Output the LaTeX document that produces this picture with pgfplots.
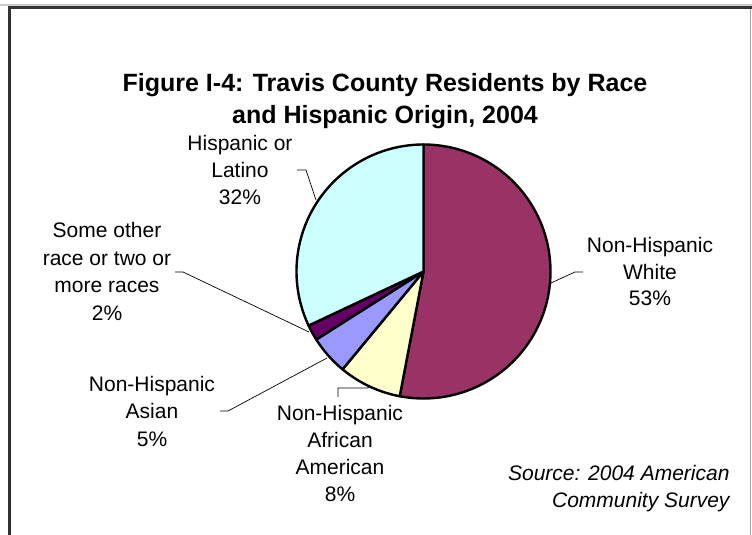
\documentclass[border=0pt]{standalone}
\usepackage{fontspec}
\setmainfont{Liberation Sans}
\usepackage{pgfplots}
\pgfplotsset{compat=1.18}
\definecolor{cWhite}{HTML}{993366}
\definecolor{cAfr}{HTML}{FFFFCC}
\definecolor{cAsian}{HTML}{9999FF}
\definecolor{cOther}{HTML}{660066}
\definecolor{cHisp}{HTML}{CCFFFF}
\definecolor{frame}{HTML}{333333}
\begin{document}
\begin{tikzpicture}
\begin{axis}[
  at={(0,0)}, anchor=south west,
  width=752pt, height=535pt, scale only axis,
  xmin=0, xmax=752, ymin=0, ymax=535,
  hide axis, clip=false,
]
% shares (%): White 53, African American 8, Asian 5, Other 2, Hispanic 32
% angles: start at 90 deg, clockwise, 3.6 deg per percent
\addplot[fill=cWhite, draw=black, line width=2.4pt, line join=round, domain=90:-100.8, samples=120, variable=\t]
  ({423.5+127*cos(t)}, {263.5+127*sin(t)}) -- (423.5,263.5) -- cycle;
\addplot[fill=cAfr, draw=black, line width=2.4pt, line join=round, domain=-100.8:-129.6, samples=30, variable=\t]
  ({423.5+127*cos(t)}, {263.5+127*sin(t)}) -- (423.5,263.5) -- cycle;
\addplot[fill=cAsian, draw=black, line width=2.4pt, line join=round, domain=-129.6:-147.6, samples=20, variable=\t]
  ({423.5+127*cos(t)}, {263.5+127*sin(t)}) -- (423.5,263.5) -- cycle;
\addplot[fill=cOther, draw=black, line width=2.4pt, line join=round, domain=-147.6:-154.8, samples=10, variable=\t]
  ({423.5+127*cos(t)}, {263.5+127*sin(t)}) -- (423.5,263.5) -- cycle;
\addplot[fill=cHisp, draw=black, line width=2.4pt, line join=round, domain=-154.8:-270, samples=80, variable=\t]
  ({423.5+127*cos(t)}, {263.5+127*sin(t)}) -- (423.5,263.5) -- cycle;

% leader lines
\draw[line width=0.7pt] (297,365) -- (306,365) -- (316,335);
\draw[line width=0.7pt] (551,252) -- (575,263) -- (583,263);
\draw[line width=0.7pt] (338,138) -- (338,147) -- (368,147) -- (369,149);
\draw[line width=0.7pt] (220,124) -- (228,124) -- (327,177);
\draw[line width=0.7pt] (175,263) -- (183,263) -- (309,203);

% labels
\node[align=center, font=\bfseries\fontsize{25}{32}\selectfont] at (385,433.5)
  {Figure I-4: Travis County Residents by Race\\and Hispanic Origin, 2004};
\node[align=center, font=\fontsize{21}{27}\selectfont] at (240,365) {Hispanic or\\Latino\\32\%};
\node[align=center, font=\fontsize{21}{27.5}\selectfont] at (107,263.5) {Some other\\race or two or\\more races\\2\%};
\node[align=center, font=\fontsize{21}{27.5}\selectfont] at (152,124) {Non-Hispanic\\Asian\\5\%};
\node[align=center, font=\fontsize{21}{27}\selectfont] at (340,81.5) {Non-Hispanic\\African\\American\\8\%};
\node[align=center, font=\fontsize{21}{26.5}\selectfont] at (650,263.5) {Non-Hispanic\\White\\53\%};
\node[align=right, anchor=east, font=\itshape\fontsize{21}{27}\selectfont] at (733,46.5) {Source: 2004 American\\Community Survey};

% frame
\fill[gray!40] (0,529) rectangle (752,531);
\fill[frame] (8,0) rectangle (11,529);
\fill[frame] (8,526) rectangle (752,529);
\fill[gray!70] (750,0) rectangle (751,526);
\end{axis}
\pgfresetboundingbox
\path (0,0) rectangle (752pt,535pt);
\end{tikzpicture}
\end{document}
